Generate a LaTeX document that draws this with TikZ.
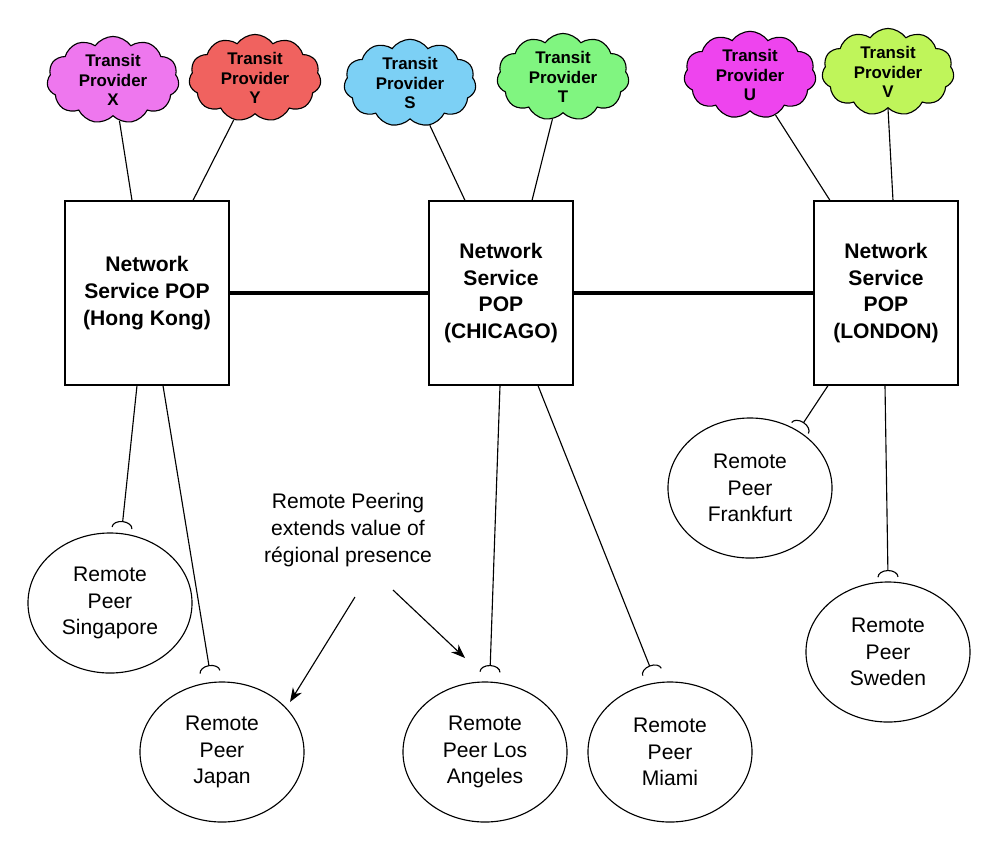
\documentclass[tikz,border=0pt]{standalone}
\usepackage{fontspec}
\setmainfont{Liberation Sans}
\usetikzlibrary{shapes.symbols, shapes.geometric, arrows.meta}
\definecolor{provX}{HTML}{EE77EE}
\definecolor{provY}{HTML}{F0625F}
\definecolor{provS}{HTML}{7CD0F5}
\definecolor{provT}{HTML}{80F580}
\definecolor{provU}{HTML}{EE44EE}
\definecolor{provV}{HTML}{BFF55A}
\tikzset{
every node/.style={align=center}, % centred multi-line text
provider/.style={cloud, cloud puffs=11, cloud puff arc=110, aspect=1.6, draw, thick, minimum width=3.3cm, minimum height=2.1cm, inner sep=0pt, font=\bfseries\fontsize{12}{14}\selectfont},
pop/.style={rectangle, draw, thick, fill=white, minimum width=4.1cm, minimum height=4.6cm, font=\bfseries\fontsize{15}{19}\selectfont},
peer/.style={ellipse, draw, thick, fill=white, minimum width=4.1cm, minimum height=3.5cm, font=\fontsize{15}{19}\selectfont},
link/.style={line width=3pt},
tie/.style={thick, -{Arc Barb[reversed, length=5pt, width=15pt]}},
}
\begin{document}
\begin{tikzpicture}[x=0.025cm, y=-0.025cm]
    \useasboundingbox (0,0) rectangle (1000,858);
    % Transit providers
    \node[provider, fill=provX] (X) at (113,80) {Transit\\Provider\\X};
    \node[provider, fill=provY] (Y) at (255,78) {Transit\\Provider\\Y};
    \node[provider, fill=provS] (S) at (410,83) {Transit\\Provider\\S};
    \node[provider, fill=provT] (T) at (563,77) {Transit\\Provider\\T};
    \node[provider, fill=provU] (U) at (750,75) {Transit\\Provider\\U};
    \node[provider, fill=provV] (V) at (888,72) {Transit\\Provider\\V};
    % POPs
    \node[pop] (hk) at (147,293) {Network\\Service POP\\(Hong Kong)};
    \node[pop, minimum width=3.6cm] (chi) at (501,293) {Network\\Service\\POP\\(CHICAGO)};
    \node[pop, minimum width=3.6cm] (lon) at (886,293) {Network\\Service\\POP\\(LONDON)};
    \draw[link] (hk) -- (chi);
    \draw[link] (chi) -- (lon);
    \draw[thick] (X) -- (hk.north -| 132,0);
    \draw[thick] (Y) -- (hk.north -| 193,0);
    \draw[thick] (S) -- (chi.north -| 465,0);
    \draw[thick] (T) -- (chi.north -| 532,0);
    \draw[thick] (U) -- (lon.north -| 830,0);
    \draw[thick] (V.south) -- (lon.north -| 893,0);
    % Remote peers
    \node[peer] (sin) at (110,603) {Remote\\Peer\\Singapore};
    \node[peer] (jap) at (222,752) {Remote\\Peer\\Japan};
    \node[peer] (la) at (485,752) {Remote\\Peer Los\\Angeles};
    \node[peer] (mia) at (670,752) {Remote\\Peer\\Miami};
    \node[peer] (fra) at (750,488) {Remote\\Peer\\Frankfurt};
    \node[peer] (swe) at (888,652) {Remote\\Peer\\Sweden};
    \draw[tie] (hk.south -| 137,0) -- (122,528);
    \draw[tie] (hk.south -| 163,0) -- (210,672);
    \draw[tie] (chi.south -| 500,0) -- (490,672);
    \draw[tie] (chi.south -| 538,0) -- (652,672);
    \draw[tie] (lon.south -| 828,0) -- (800,428);
    \draw[tie] (lon.south -| 885,0) -- (888,577);
    % Note
    \node[font=\fontsize{15}{19.5}\selectfont] (note) at (348,530) {Remote Peering\\extends value of\\régional presence};
    \coordinate (n1) at (355,597);
    \coordinate (n2) at (393,590);
    \draw[thick, -{Stealth[length=10pt]}] (n1) -- (290,702);
    \draw[thick, -{Stealth[length=10pt]}] (n2) -- (465,658);
\end{tikzpicture}
\end{document}
